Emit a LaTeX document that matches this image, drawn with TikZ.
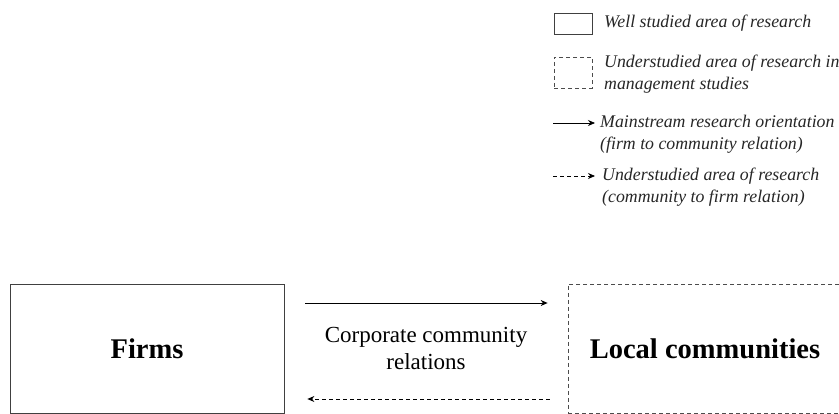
\documentclass[tikz,border=0pt]{standalone}
\usepackage{fontspec}
\setmainfont{Liberation Serif}
\usetikzlibrary{arrows.meta}
\begin{document}
\begin{tikzpicture}[x=1pt,y=-1pt,
  solidbox/.style={draw=black!75,line width=0.8pt,rectangle,inner sep=0pt},
  dashbox/.style={draw=black!70,line width=0.7pt,dash pattern=on 4pt off 3pt,rectangle,inner sep=0pt},
  legtext/.style={anchor=west,align=left,inner sep=0pt,font=\fontsize{17.8}{22}\selectfont\itshape,text=black!85},
  arr/.style={line width=0.8pt,-{Stealth[length=7pt,width=6pt]}},
  darr/.style={line width=0.8pt,dash pattern=on 4pt off 3pt,-{Stealth[length=7pt,width=6pt]}},
  legarr/.style={line width=0.8pt,-{Stealth[length=7pt,width=6pt]}},
  bigtext/.style={font=\fontsize{28.5}{30}\selectfont\bfseries}]
\useasboundingbox (0,0) rectangle (839,414);
% main boxes
\node[solidbox,minimum width=274pt,minimum height=129pt] (firms) at (147,348.5) {};
\node[bigtext] at (firms.center) {Firms};
\node[dashbox,minimum width=274pt,minimum height=129pt] (local) at (705,348.5) {};
\node[bigtext] at (local.center) {Local communities};
% relation label
\node[align=center,font=\fontsize{23}{27}\selectfont,inner sep=0pt] (ccr) at (426,348.5) {Corporate community\\relations};
% arrows between boxes
\coordinate (fa) at (firms.east |- 0,303);
\coordinate (la) at (local.west |- 0,303);
\coordinate (fb) at (firms.east |- 0,399);
\coordinate (lb) at (local.west |- 0,399);
\draw[arr,shorten <=21pt,shorten >=20pt] (fa) -- (la);
\draw[darr,shorten <=18pt,shorten >=23pt] (lb) -- (fb);
% legend
\node[solidbox,minimum width=38pt,minimum height=21pt] (ls) at (573,23.5) {};
\node[legtext] (lst) at (604,23.5) {Well studied area of research};
\node[dashbox,minimum width=38pt,minimum height=31pt] (ld) at (573,72.5) {};
\node[legtext] (ldt) at (604,74) {Understudied area of research in\\management studies};
\coordinate (a1s) at (553,123);
\coordinate (a1e) at (595,123);
\draw[legarr] (a1s) -- (a1e);
\node[legtext] (a1t) at (600,134) {Mainstream research orientation\\(firm to community relation)};
\coordinate (a2s) at (553,176);
\coordinate (a2e) at (595,176);
\draw[legarr,dash pattern=on 4pt off 3pt] (a2s) -- (a2e);
\node[legtext] (a2t) at (602,187) {Understudied area of research\\(community to firm relation)};
\end{tikzpicture}
\end{document}
